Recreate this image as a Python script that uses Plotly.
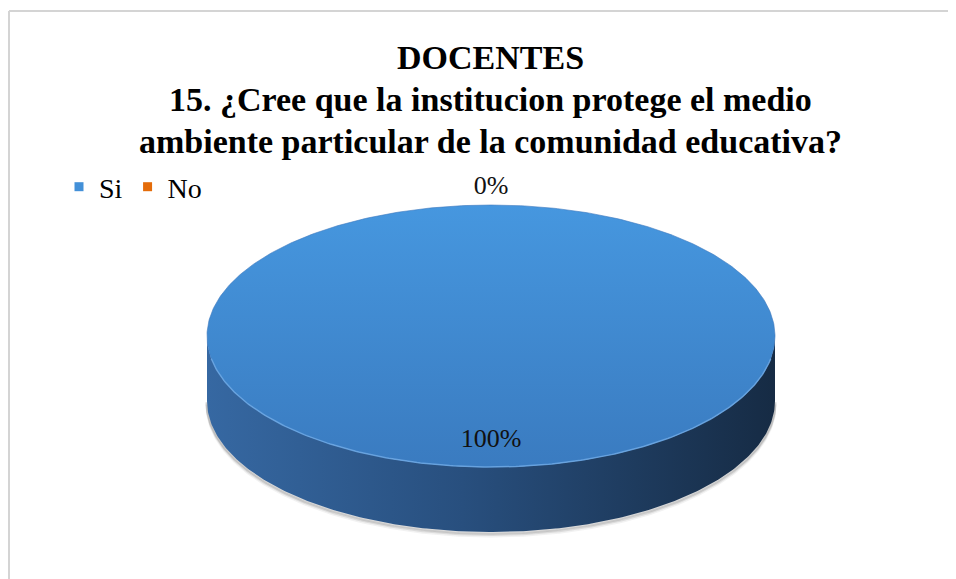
import numpy as np
import plotly.graph_objects as go

# ---- data ----
title_lines = ["DOCENTES",
               "15. ¿Cree que la institucion protege el medio",
               "ambiente particular de la comunidad educativa?"]
categories = ["Si", "No"]
values = [100, 0]
slice_colors = ["#4390d8", "#e46c0a"]

# ---- layout geometry (page pixels; the page body has an 8px margin) ----
W, H = 956, 579
OFF = 8
CX, CY, A, B, DEPTH = 491, 336, 284, 131, 65
FONT = "Liberation Serif"

total = float(sum(values))
fracs = [v / total for v in values]


def arc(t0, t1, n=240):
    t = np.radians(np.linspace(t0, t1, n))
    return CX + A * np.cos(t), CY - B * np.sin(t)


fig = go.Figure()

start = 90.0
spans = []
for f in fracs:
    end = start - 360.0 * f
    spans.append((start, end))
    start = end

# side walls (front half only)
side_grad = dict(type="horizontal",
                 colorscale=[[0, "#3668a2"], [0.45, "#284f7e"], [1, "#162b44"]],
                 start=CX - A, stop=CX + A)
for (s, e), f in zip(spans, fracs):
    if f <= 0:
        continue
    lo, hi = min(s, e), max(s, e)
    for k in range(-2, 2):
        i0, i1 = max(lo, -180 + 360 * k), min(hi, 360 * k)
        if i1 - i0 <= 0:
            continue
        x, y = arc(i0, i1)
        xs = np.concatenate([x, x[::-1], x[:1]])
        ys = np.concatenate([y, (y + DEPTH)[::-1], y[:1]])
        for off, op in [(4, 0.08), (2.5, 0.14), (1.2, 0.22)]:
            fig.add_trace(go.Scatter(x=x, y=y + DEPTH + off, mode="lines",
                                     line=dict(color=f"rgba(90,90,90,{op})", width=3),
                                     hoverinfo="skip", showlegend=False))
        fig.add_trace(go.Scatter(x=xs, y=ys, mode="lines", fill="toself",
                                 fillgradient=side_grad,
                                 line=dict(width=0, color="rgba(0,0,0,0)"),
                                 hoverinfo="skip", showlegend=False))

# top faces
top_grad = dict(type="vertical",
                colorscale=[[0, "#3a7bc0"], [1, "#4697df"]],
                start=CY + B, stop=CY - B)
for (s, e), f, cat in zip(spans, fracs, categories):
    if f <= 0:
        continue
    x, y = arc(s, e, 480)
    if f < 1:
        x = np.concatenate([[CX], x, [CX]])
        y = np.concatenate([[CY], y, [CY]])
    fig.add_trace(go.Scatter(x=x, y=y, mode="lines", fill="toself",
                             fillgradient=top_grad,
                             line=dict(width=1, color="rgba(60,120,190,0.6)"),
                             name=cat, hoverinfo="skip", showlegend=False))
    lo, hi = min(s, e), max(s, e)
    for k in range(-2, 2):
        i0, i1 = max(lo, -170 + 360 * k), min(hi, -10 + 360 * k)
        if i1 > i0:
            rx, ry = arc(i0, i1)
            fig.add_trace(go.Scatter(x=rx, y=ry, mode="lines",
                                     line=dict(color="rgba(110,170,230,0.8)", width=1.5),
                                     hoverinfo="skip", showlegend=False))

# data labels placed from slice mid-angles
lx, ly, lt = [], [], []
for (s, e), f, v in zip(spans, fracs, values):
    mid = np.radians((s + e) / 2)
    if f >= 0.15:
        lx.append(CX + 0.8 * A * np.cos(mid))
        ly.append(CY - 0.8 * B * np.sin(mid))
    else:
        lx.append(CX + (A + 14) * np.cos(mid))
        ly.append(CY - (B + 12) * np.sin(mid) - 6)
    lt.append(f"{round(f * 100)}%")
fig.add_trace(go.Scatter(x=lx, y=ly, mode="text", text=lt,
                         textfont=dict(family=FONT, size=26, color="#111111"),
                         hoverinfo="skip", showlegend=False))

# legend entries
for cat, col in zip(categories, slice_colors):
    fig.add_trace(go.Scatter(x=[None], y=[None], mode="markers", name=cat,
                             marker=dict(symbol="square", size=9, color=col,
                                         line=dict(width=0))))

# title, one annotation per line
title_y = [57, 99, 141]
annotations = [dict(text=t, x=490, y=ty, xref="x", yref="y",
                    xanchor="center", yanchor="middle", showarrow=False,
                    font=dict(family=FONT, size=34, color="black", weight="bold"))
               for t, ty in zip(title_lines, title_y)]

fig.update_layout(
    width=W, height=H,
    margin=dict(l=0, r=0, t=0, b=0),
    paper_bgcolor="white", plot_bgcolor="white",
    xaxis=dict(range=[OFF, W + OFF], visible=False, fixedrange=True),
    yaxis=dict(range=[H + OFF, OFF], visible=False, fixedrange=True),
    annotations=annotations,
    legend=dict(orientation="h", x=(59 - OFF) / W, xanchor="left",
                y=1 - (162 - OFF) / H, yanchor="top",
                font=dict(family=FONT, size=28, color="black"),
                itemwidth=30, bgcolor="rgba(0,0,0,0)"),
    shapes=[
        dict(type="line", xref="x", yref="y", x0=9, x1=W + OFF, y0=11, y1=11,
             line=dict(color="#d4d4d4", width=2)),
        dict(type="line", xref="x", yref="y", x0=9, x1=9, y0=11, y1=H + OFF,
             line=dict(color="#d4d4d4", width=2)),
    ],
)

fig.write_html("out.html")
